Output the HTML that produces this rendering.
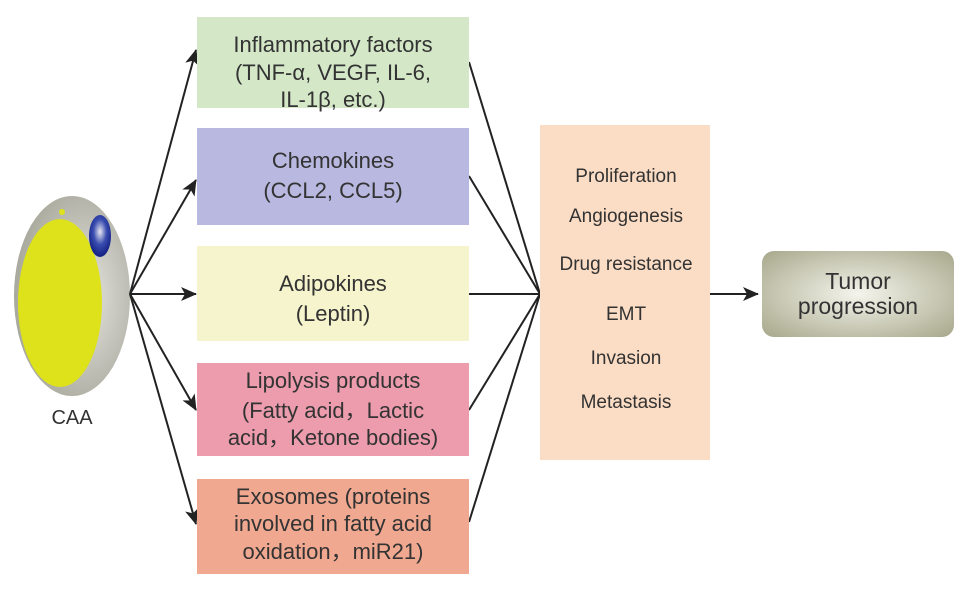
<!DOCTYPE html>
<html><head><meta charset="utf-8"><style>
body{margin:0;background:#fff;}
svg text{font-family:"Liberation Sans",sans-serif;fill:#333;}
</style></head><body>
<svg width="969" height="589" viewBox="0 0 969 589" xmlns="http://www.w3.org/2000/svg">
<defs>
<radialGradient id="cell" cx="0.6" cy="0.5" r="0.6"><stop offset="0" stop-color="#e6e6e2"/><stop offset="1" stop-color="#a8a89c"/></radialGradient>
<radialGradient id="nuc" cx="0.5" cy="0.4" r="0.6"><stop offset="0" stop-color="#e8e8f0"/><stop offset="0.5" stop-color="#3a4db0"/><stop offset="1" stop-color="#101e80"/></radialGradient>
<radialGradient id="tum" cx="0.5" cy="0.5" r="0.7"><stop offset="0" stop-color="#f4f4ec"/><stop offset="1" stop-color="#a8a88c"/></radialGradient>
<marker id="ah" markerWidth="16" markerHeight="14" refX="15" refY="7" orient="auto" markerUnits="userSpaceOnUse"><path d="M0,0 L16,7 L0,14 L4,7 Z" fill="#222"/></marker>
</defs>
<ellipse cx="72" cy="296" rx="58" ry="100" fill="url(#cell)"/>
<ellipse cx="60" cy="303" rx="42" ry="84" fill="#dde21a"/>
<ellipse cx="100" cy="236" rx="11" ry="21" fill="url(#nuc)"/>
<circle cx="62" cy="212" r="3" fill="#dde21a"/><circle cx="68" cy="376" r="4" fill="#dde21a"/>
<text x="72" y="424" font-size="20" text-anchor="middle">CAA</text>
<g stroke="#222" stroke-width="2" fill="none">
<line x1="130" y1="294" x2="196" y2="50" marker-end="url(#ah)"/>
<line x1="130" y1="294" x2="196" y2="180" marker-end="url(#ah)"/>
<line x1="130" y1="294" x2="196" y2="294" marker-end="url(#ah)"/>
<line x1="130" y1="294" x2="196" y2="410" marker-end="url(#ah)"/>
<line x1="130" y1="294" x2="196" y2="524" marker-end="url(#ah)"/>
<line x1="469" y1="62" x2="540" y2="294"/>
<line x1="469" y1="176" x2="540" y2="294"/>
<line x1="469" y1="294" x2="540" y2="294"/>
<line x1="469" y1="410" x2="540" y2="294"/>
<line x1="469" y1="522" x2="540" y2="294"/>
<line x1="710" y1="294" x2="758" y2="294" marker-end="url(#ah)"/>
</g>
<rect x="197" y="17" width="272" height="91" fill="#d4e8c8"/>
<rect x="197" y="128" width="272" height="97" fill="#b8b8e0"/>
<rect x="197" y="246" width="272" height="95" fill="#f6f4cc"/>
<rect x="197" y="363" width="272" height="93" fill="#ec9cac"/>
<rect x="197" y="479" width="272" height="95" fill="#f0a890"/>
<rect x="540" y="125" width="170" height="335" fill="#fbdcc4"/>
<rect x="762" y="251" width="192" height="86" rx="12" fill="url(#tum)"/>
<g font-size="22" text-anchor="middle">
<text x="333" y="52">Inflammatory factors</text><text x="333" y="80">(TNF-α, VEGF, IL-6,</text><text x="333" y="107">IL-1β, etc.)</text>
<text x="333" y="168">Chemokines</text><text x="333" y="198">(CCL2, CCL5)</text>
<text x="333" y="291">Adipokines</text><text x="333" y="321">(Leptin)</text>
<text x="333" y="388">Lipolysis products</text><text x="333" y="418">(Fatty acid，Lactic</text><text x="333" y="445">acid，Ketone bodies)</text>
<text x="333" y="504">Exosomes (proteins</text><text x="333" y="531">involved in fatty acid</text><text x="333" y="559">oxidation，miR21)</text>
</g>
<g font-size="19" text-anchor="middle">
<text x="626" y="182">Proliferation</text><text x="626" y="222">Angiogenesis</text><text x="626" y="270">Drug resistance</text>
<text x="626" y="320">EMT</text><text x="626" y="364">Invasion</text><text x="626" y="408">Metastasis</text>
</g>
<g font-size="23" text-anchor="middle">
<text x="858" y="289">Tumor</text><text x="858" y="314">progression</text>
</g>
</svg>
</body></html>
